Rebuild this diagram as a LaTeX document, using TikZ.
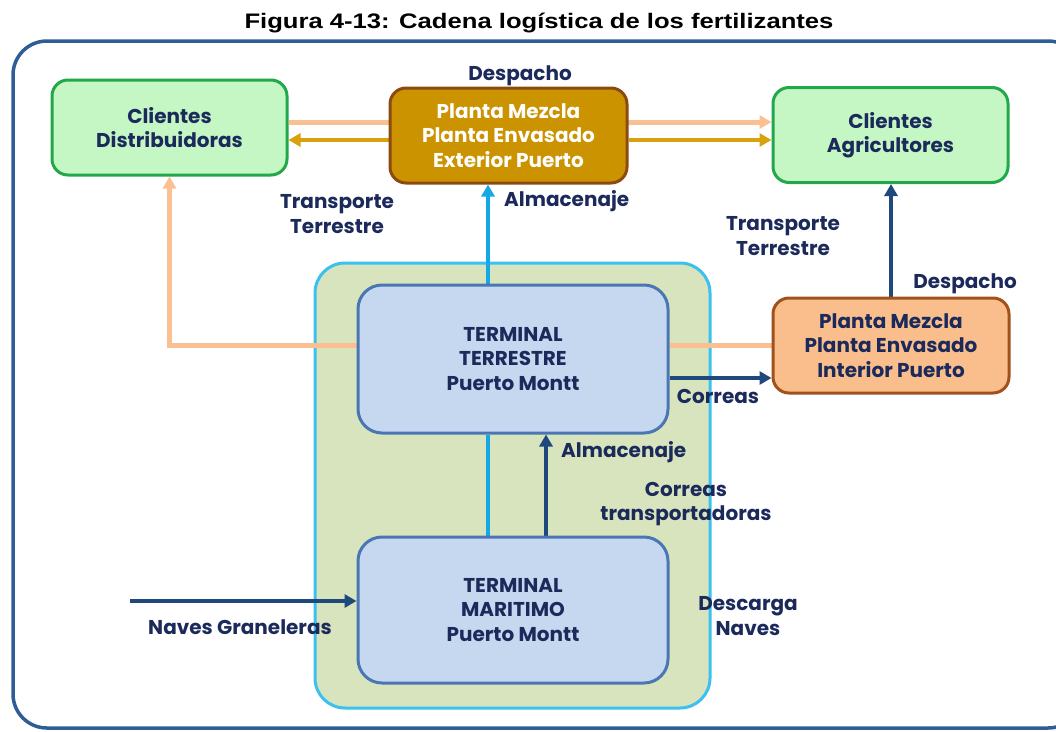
\documentclass[tikz,border=0pt]{standalone}
\usepackage{fontspec}
\setmainfont{Poppins}
\newfontfamily\titlefont{Liberation Sans}
\usetikzlibrary{arrows.meta}
\definecolor{navy}{HTML}{1B2A5A}
\definecolor{frameblue}{HTML}{2F5D96}
\definecolor{grfill}{HTML}{C4F7C4}
\definecolor{grline}{HTML}{22A84A}
\definecolor{goldfill}{HTML}{CC9300}
\definecolor{brownline}{HTML}{8A4A12}
\definecolor{orfill}{HTML}{F9BE8C}
\definecolor{orline}{HTML}{A0521A}
\definecolor{contfill}{HTML}{D7E4BD}
\definecolor{cyanline}{HTML}{3CC0F0}
\definecolor{termfill}{HTML}{C6D8F0}
\definecolor{termline}{HTML}{4A76B4}
\definecolor{lor}{HTML}{FBC092}
\definecolor{gold}{HTML}{D9A20C}
\definecolor{cyanarrow}{HTML}{14A8E6}
\definecolor{navyarrow}{HTML}{1F497D}
\pgfdeclarelayer{bg}
\pgfsetlayers{bg,main}
\newcommand{\lblfont}{\bfseries\fontsize{20}{24.5}\selectfont}
\tikzset{
  box/.style={draw, line width=3, rounded corners=16, align=center, inner sep=0,
    font=\lblfont, text=navy},
  greenbox/.style={box, fill=grfill, draw=grline, minimum width=235, minimum height=95},
  goldbox/.style={box, fill=goldfill, draw=brownline, text=white, minimum width=237, minimum height=95},
  orbox/.style={box, fill=orfill, draw=orline, minimum width=236, minimum height=95},
  termbox/.style={box, fill=termfill, draw=termline, rounded corners=24, minimum width=310, minimum height=147},
  lbl/.style={font=\lblfont, text=navy, align=center, inner sep=0},
  tip/.style={-{Triangle[length=12,width=13]}},
  lorline/.style={draw=lor, line width=5},
  goldline/.style={draw=gold, line width=4},
  cyanln/.style={draw=cyanarrow, line width=4},
  navyln/.style={draw=navyarrow, line width=4},
}
\begin{document}
\begin{tikzpicture}[x=1pt,y=-1pt]
\useasboundingbox (0,0) rectangle (1056,731);
\draw[frameblue, line width=3.5, rounded corners=34] (13,41) rectangle (1082,728);
\node[inner sep=0] (title) at (539,23) {\scalebox{1.22}[1]{\titlefont\bfseries\fontsize{21}{25}\selectfont Figura 4-13: Cadena log\'istica de los fertilizantes}};

\node[greenbox] (dist) at (169.5,127.5) {Clientes\\Distribuidoras};
\node[goldbox] (ext) at (508.5,135.5) {Planta Mezcla\\Planta Envasado\\Exterior Puerto};
\node[greenbox] (agri) at (890.5,135) {Clientes\\Agricultores};
\node[orbox] (inter) at (891,345.5) {Planta Mezcla\\Planta Envasado\\Interior Puerto};
\node[termbox, minimum height=148] (terr) at (513,359) {TERMINAL\\TERRESTRE\\Puerto Montt};
\node[termbox, minimum height=146] (mar) at (513,610) {TERMINAL\\MARITIMO\\Puerto Montt};
\coordinate (naves) at (130,601);

\begin{pgfonlayer}{bg}
\node[draw=cyanline, fill=contfill, line width=3, rounded corners=30, minimum width=395, minimum height=445, inner sep=0] (cont) at (512.5,485.5) {};
\draw[lorline, tip] (dist.east |- 0,122) -- (agri.west |- 0,122);
\draw[goldline, tip] (ext.west |- 0,140) -- (dist.east |- 0,140);
\draw[goldline, tip] (ext.east |- 0,140) -- (agri.west |- 0,140);
\draw[lorline, tip] (terr.west |- 0,345) -| (dist.south);
\draw[lorline] (terr.east |- 0,345) -- (inter.west |- 0,345);
\draw[navyln, tip] (terr.east |- 0,378) -- (inter.west |- 0,378);
\draw[cyanln, tip] (terr.north -| 488,0) -- (ext.south -| 488,0);
\draw[cyanln] (mar.north -| 488,0) -- (terr.south -| 488,0);
\draw[navyln, tip] (mar.north -| 546,0) -- (terr.south -| 546,0);
\draw[navyln, tip] (inter.north) -- (inter.north |- agri.south);
\draw[navyln, tip] (naves) -- (mar.west |- naves);
\end{pgfonlayer}

\node[lbl] (l1) at (520,76) {Despacho};
\node[lbl] (l2) at (337,214) {Transporte\\Terrestre};
\node[lbl, anchor=west] (l3) at (504,201) {Almacenaje};
\node[lbl] (l4) at (783,236) {Transporte\\Terrestre};
\node[lbl] (l5) at (965,284) {Despacho};
\node[lbl] (l6) at (718,396) {Correas};
\node[lbl, anchor=west] (l7) at (561,452) {Almacenaje};
\node[lbl] (l8) at (686,504) {Correas\\transportadoras};
\node[lbl] (l9) at (240,627) {Naves Graneleras};
\node[lbl] (l10) at (748,616) {Descarga\\Naves};
\end{tikzpicture}
\end{document}
